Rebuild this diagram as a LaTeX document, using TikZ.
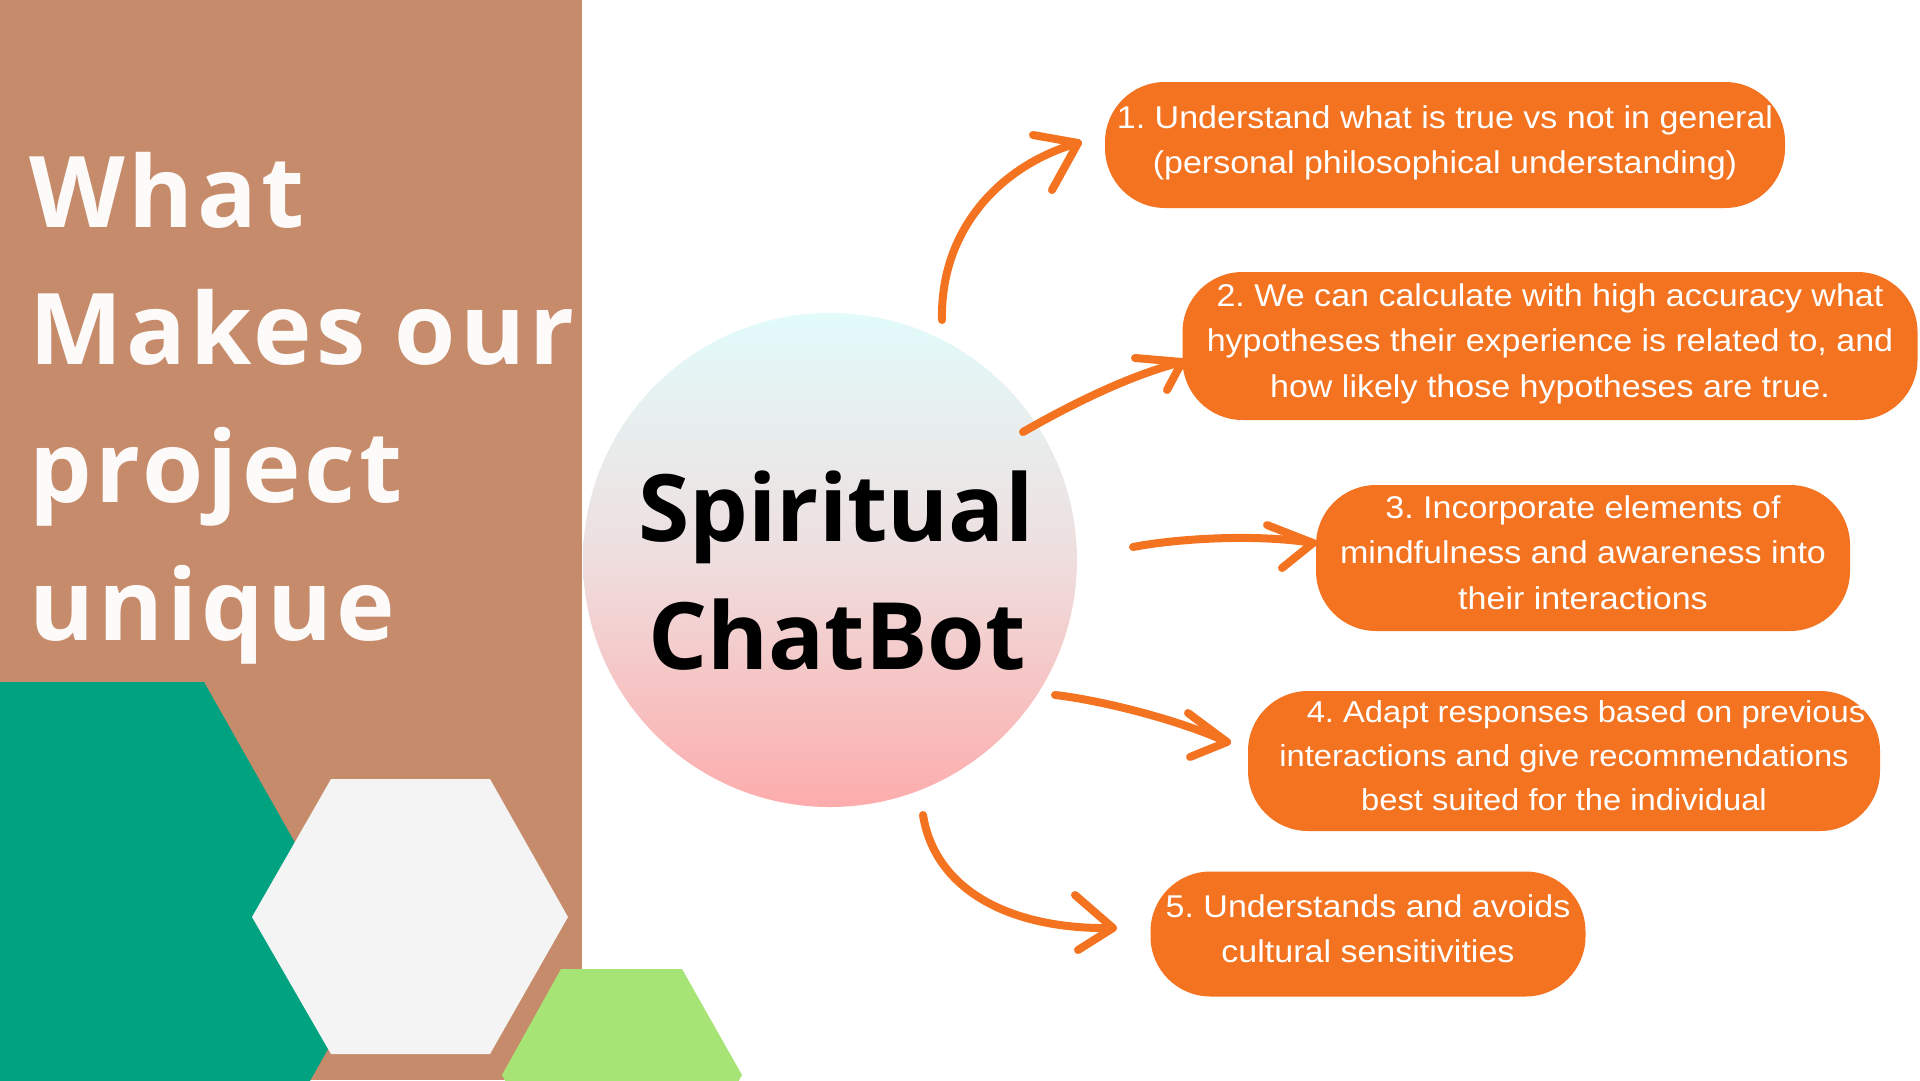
\documentclass[tikz,border=0pt]{standalone}
\usepackage{fontspec}
\setmainfont{Liberation Sans}
\newfontfamily\titlefont[LetterSpace=4]{Open Sans}
\newfontfamily\botfont{Open Sans}
\newfontfamily\boxfont[FakeStretch=1.08]{Liberation Sans}
\frenchspacing
\definecolor{panelbrown}{RGB}{198,139,106}
\definecolor{tealhex}{RGB}{0,162,128}
\definecolor{greyhex}{RGB}{244,244,244}
\definecolor{greenhex}{RGB}{166,229,117}
\definecolor{boxorange}{RGB}{243,115,33}
\definecolor{titlewhite}{RGB}{253,250,250}
\definecolor{circtop}{RGB}{226,251,251}
\definecolor{circmid}{RGB}{239,222,222}
\definecolor{circbot}{RGB}{253,172,172}
\tikzset{
  titleline/.style={anchor=base west, inner sep=0pt, text=titlewhite,
    font=\titlefont\bfseries\fontsize{99}{120}\selectfont},
  botline/.style={anchor=base, inner sep=0pt, text=black,
    font=\botfont\bfseries\fontsize{93}{128}\selectfont},
  itembox/.style={fill=boxorange, draw=none, text=white, align=center,
    inner sep=0pt, rounded corners=60pt, text depth=11pt,
    font=\boxfont\fontsize{31.5}{45.5}\selectfont\frenchspacing},
  smallbox/.style={itembox,
    font=\boxfont\fontsize{30.3}{44}\selectfont\frenchspacing},
  arrowline/.style={draw=boxorange, line width=8pt, line cap=round, line join=round},
}
\begin{document}
\begin{tikzpicture}[x=1pt,y=-1pt]
\useasboundingbox (0,0) rectangle (1920,1080);
\begin{scope}
\clip (0,0) rectangle (1920,1080);
\fill[white] (0,0) rectangle (1920,1080);
\fill[panelbrown] (0,0) rectangle (582,1080);
\fill[tealhex] (0,682) -- (204,682) -- (370,975) -- (204,1268) -- (0,1268) -- cycle;
\fill[greyhex] (331,779) -- (490,779) -- (568,917) -- (490,1054) -- (331,1054) -- (252,917) -- cycle;
\fill[greenhex] (561,969) -- (682,969) -- (742,1075) -- (682,1181) -- (561,1181) -- (502,1075) -- cycle;
\end{scope}

% title
\node[titleline] (tl1) at (29,227) {What};
\node[titleline] (tl2) at (29,364) {Makes our};
\node[titleline] (tl3) at (29,502) {project};
\node[titleline] (tl4) at (29,640) {unique};

% circle
\node[circle, minimum size=494pt, inner sep=0pt, draw=none,
  top color=circtop, bottom color=circbot, middle color=circmid] (c) at (830,560) {};
\node[botline] (sp1) at (836,541) {Spiritual};
\node[botline] (sp2) at (837,669) {ChatBot};

% boxes
\node[itembox, minimum width=680pt, minimum height=126pt] (b1) at (1445,145)
  {1. Understand what is true vs not in general\\(personal philosophical understanding)};
\node[itembox, minimum width=735pt, minimum height=148pt] (b2) at (1550,346)
  {2. We can calculate with high accuracy what\\hypotheses their experience is related to, and\\how likely those hypotheses are true.};
\node[itembox, minimum width=534pt, minimum height=146pt] (b3) at (1583,558)
  {3. Incorporate elements of\\mindfulness and awareness into\\their interactions};
\node[smallbox, minimum width=632pt, minimum height=140pt] (b4) at (1564,761)
  {\hspace*{44pt}4. Adapt responses based on previous\\interactions and give recommendations\\best suited for the individual};
\node[itembox, minimum width=435pt, minimum height=125pt] (b5) at (1368,934)
  {5. Understands and avoids\\cultural sensitivities};

% arrow coordinates
\coordinate (s1) at (942,320);  \coordinate (t1) at (1078,143);
\coordinate (h1a) at (1033,135); \coordinate (h1b) at (1052,190);
\coordinate (s2) at (1023,432); \coordinate (t2) at (1182,362);
\coordinate (h2a) at (1135,358); \coordinate (h2b) at (1167,390);
\coordinate (s3) at (1133,547); \coordinate (t3) at (1313,543);
\coordinate (h3a) at (1267,525); \coordinate (h3b) at (1282,568);
\coordinate (s4) at (1055,695); \coordinate (t4) at (1227,742);
\coordinate (h4a) at (1188,713); \coordinate (h4b) at (1190,757);
\coordinate (s5) at (923,815);  \coordinate (t5) at (1113,928);
\coordinate (h5a) at (1075,895); \coordinate (h5b) at (1078,950);

\draw[arrowline] (s1) .. controls (940,230) and (1000,165) .. (t1);
\draw[arrowline] (h1a) -- (t1) -- (h1b);
\draw[arrowline] (s2) .. controls (1070,405) and (1130,375) .. (t2);
\draw[arrowline] (h2a) -- (t2) -- (h2b);
\draw[arrowline] (s3) .. controls (1180,538) and (1260,534) .. (t3);
\draw[arrowline] (h3a) -- (t3) -- (h3b);
\draw[arrowline] (s4) .. controls (1100,700) and (1180,720) .. (t4);
\draw[arrowline] (h4a) -- (t4) -- (h4b);
\draw[arrowline] (s5) .. controls (935,890) and (1010,930) .. (t5);
\draw[arrowline] (h5a) -- (t5) -- (h5b);
\end{tikzpicture}
\end{document}
